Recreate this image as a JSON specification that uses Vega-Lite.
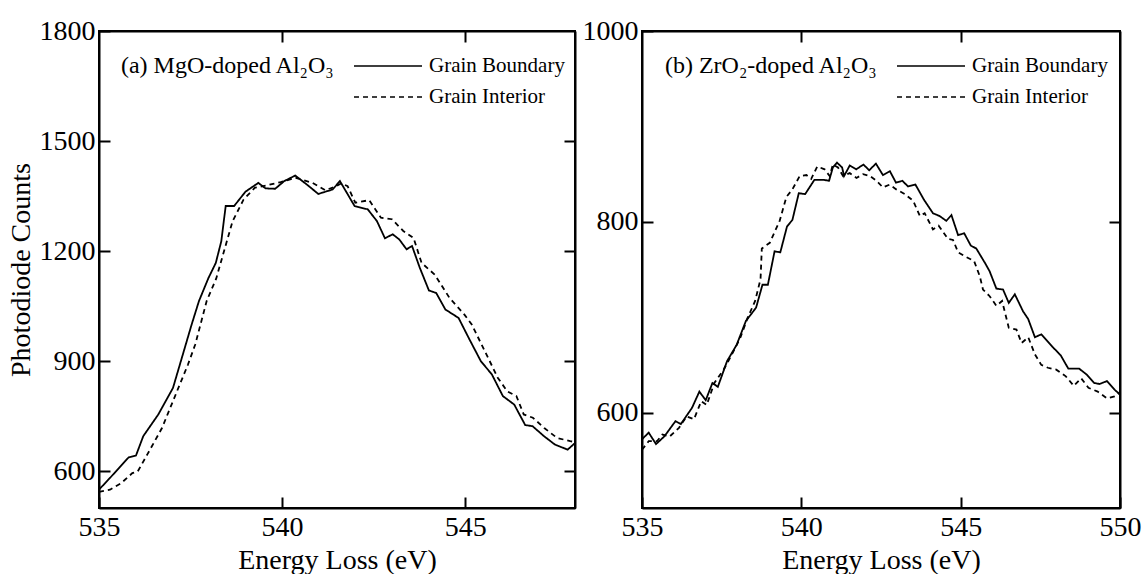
{
  "$schema": "https://vega.github.io/schema/vega-lite/v6.json",
  "padding": {"left": 6, "top": 16, "right": 5, "bottom": 5},
  "bounds": "flush",
  "spacing": 67,
  "config": {
    "font": "Liberation Serif",
    "view": {"stroke": "black", "strokeWidth": 2},
    "axis": {
      "grid": false, "domainColor": "black", "domainWidth": 2, "tickColor": "black", "tickWidth": 2,
      "labelColor": "black", "titleColor": "black", "labelFontSize": 28, "titleFontSize": 28,
      "titleFontWeight": "normal", "labelFont": "Liberation Serif", "titleFont": "Liberation Serif",
      "tickSize": -11, "labelFlush": false, "labelOverlap": false, "format": "d"
    },
    "legend": {
      "title": null, "orient": "none", "legendX": 254, "legendY": 17, "symbolType": "M-1,0H3",
      "symbolSize": 1156, "symbolStrokeWidth": 1.6, "symbolStrokeColor": "black", "symbolFillColor": "transparent",
      "labelFontSize": 21, "labelFont": "Liberation Serif", "labelColor": "black", "labelOffset": 40, "rowPadding": 3
    }
  },
  "datasets": {
    "mgo": [
      {"s": "Grain Boundary", "e": 535.0, "c": 550}, {"s": "Grain Boundary", "e": 535.3, "c": 582},
      {"s": "Grain Boundary", "e": 535.81, "c": 638}, {"s": "Grain Boundary", "e": 536.01, "c": 643},
      {"s": "Grain Boundary", "e": 536.21, "c": 696}, {"s": "Grain Boundary", "e": 536.62, "c": 755},
      {"s": "Grain Boundary", "e": 537.02, "c": 827}, {"s": "Grain Boundary", "e": 537.53, "c": 1000},
      {"s": "Grain Boundary", "e": 537.73, "c": 1064}, {"s": "Grain Boundary", "e": 537.99, "c": 1127},
      {"s": "Grain Boundary", "e": 538.19, "c": 1168}, {"s": "Grain Boundary", "e": 538.34, "c": 1227},
      {"s": "Grain Boundary", "e": 538.46, "c": 1323}, {"s": "Grain Boundary", "e": 538.69, "c": 1323},
      {"s": "Grain Boundary", "e": 539.0, "c": 1362}, {"s": "Grain Boundary", "e": 539.35, "c": 1386},
      {"s": "Grain Boundary", "e": 539.55, "c": 1371}, {"s": "Grain Boundary", "e": 539.81, "c": 1370},
      {"s": "Grain Boundary", "e": 540.06, "c": 1391}, {"s": "Grain Boundary", "e": 540.36, "c": 1406},
      {"s": "Grain Boundary", "e": 540.67, "c": 1382}, {"s": "Grain Boundary", "e": 540.99, "c": 1356},
      {"s": "Grain Boundary", "e": 541.38, "c": 1368}, {"s": "Grain Boundary", "e": 541.58, "c": 1391},
      {"s": "Grain Boundary", "e": 541.98, "c": 1323}, {"s": "Grain Boundary", "e": 542.34, "c": 1314},
      {"s": "Grain Boundary", "e": 542.59, "c": 1282}, {"s": "Grain Boundary", "e": 542.81, "c": 1235},
      {"s": "Grain Boundary", "e": 543.02, "c": 1246}, {"s": "Grain Boundary", "e": 543.2, "c": 1232},
      {"s": "Grain Boundary", "e": 543.4, "c": 1205}, {"s": "Grain Boundary", "e": 543.55, "c": 1214},
      {"s": "Grain Boundary", "e": 543.76, "c": 1155}, {"s": "Grain Boundary", "e": 544.01, "c": 1093},
      {"s": "Grain Boundary", "e": 544.21, "c": 1086}, {"s": "Grain Boundary", "e": 544.46, "c": 1041},
      {"s": "Grain Boundary", "e": 544.82, "c": 1018}, {"s": "Grain Boundary", "e": 545.12, "c": 959},
      {"s": "Grain Boundary", "e": 545.43, "c": 900}, {"s": "Grain Boundary", "e": 545.73, "c": 864},
      {"s": "Grain Boundary", "e": 546.03, "c": 805}, {"s": "Grain Boundary", "e": 546.34, "c": 782},
      {"s": "Grain Boundary", "e": 546.64, "c": 726}, {"s": "Grain Boundary", "e": 546.84, "c": 723},
      {"s": "Grain Boundary", "e": 547.15, "c": 696}, {"s": "Grain Boundary", "e": 547.45, "c": 673},
      {"s": "Grain Boundary", "e": 547.8, "c": 659}, {"s": "Grain Boundary", "e": 548.0, "c": 677},
      {"s": "Grain Interior", "e": 535.0, "c": 544}, {"s": "Grain Interior", "e": 535.3, "c": 550},
      {"s": "Grain Interior", "e": 535.61, "c": 568}, {"s": "Grain Interior", "e": 535.91, "c": 595},
      {"s": "Grain Interior", "e": 536.06, "c": 600}, {"s": "Grain Interior", "e": 536.32, "c": 646},
      {"s": "Grain Interior", "e": 536.72, "c": 718}, {"s": "Grain Interior", "e": 537.13, "c": 818},
      {"s": "Grain Interior", "e": 537.43, "c": 891}, {"s": "Grain Interior", "e": 537.63, "c": 946},
      {"s": "Grain Interior", "e": 537.94, "c": 1064}, {"s": "Grain Interior", "e": 538.2, "c": 1125},
      {"s": "Grain Interior", "e": 538.44, "c": 1209}, {"s": "Grain Interior", "e": 538.65, "c": 1282},
      {"s": "Grain Interior", "e": 538.95, "c": 1341}, {"s": "Grain Interior", "e": 539.26, "c": 1373},
      {"s": "Grain Interior", "e": 539.56, "c": 1379}, {"s": "Grain Interior", "e": 539.96, "c": 1388},
      {"s": "Grain Interior", "e": 540.37, "c": 1400}, {"s": "Grain Interior", "e": 540.83, "c": 1386},
      {"s": "Grain Interior", "e": 541.18, "c": 1366}, {"s": "Grain Interior", "e": 541.48, "c": 1377},
      {"s": "Grain Interior", "e": 541.62, "c": 1385}, {"s": "Grain Interior", "e": 541.79, "c": 1377},
      {"s": "Grain Interior", "e": 542.0, "c": 1332}, {"s": "Grain Interior", "e": 542.38, "c": 1339},
      {"s": "Grain Interior", "e": 542.7, "c": 1291}, {"s": "Grain Interior", "e": 543.0, "c": 1287},
      {"s": "Grain Interior", "e": 543.31, "c": 1255}, {"s": "Grain Interior", "e": 543.59, "c": 1236},
      {"s": "Grain Interior", "e": 543.81, "c": 1168}, {"s": "Grain Interior", "e": 544.17, "c": 1136},
      {"s": "Grain Interior", "e": 544.57, "c": 1073}, {"s": "Grain Interior", "e": 544.98, "c": 1027},
      {"s": "Grain Interior", "e": 545.18, "c": 1000}, {"s": "Grain Interior", "e": 545.54, "c": 927},
      {"s": "Grain Interior", "e": 545.89, "c": 855}, {"s": "Grain Interior", "e": 546.15, "c": 818},
      {"s": "Grain Interior", "e": 546.4, "c": 805}, {"s": "Grain Interior", "e": 546.6, "c": 755},
      {"s": "Grain Interior", "e": 546.85, "c": 746}, {"s": "Grain Interior", "e": 547.16, "c": 718},
      {"s": "Grain Interior", "e": 547.51, "c": 691}, {"s": "Grain Interior", "e": 547.87, "c": 682},
      {"s": "Grain Interior", "e": 548.0, "c": 680}
    ],
    "zro": [
      {"s": "Grain Boundary", "e": 535.0, "c": 572}, {"s": "Grain Boundary", "e": 535.21, "c": 579},
      {"s": "Grain Boundary", "e": 535.44, "c": 567}, {"s": "Grain Boundary", "e": 535.7, "c": 575},
      {"s": "Grain Boundary", "e": 536.05, "c": 591}, {"s": "Grain Boundary", "e": 536.22, "c": 588},
      {"s": "Grain Boundary", "e": 536.57, "c": 605}, {"s": "Grain Boundary", "e": 536.8, "c": 622},
      {"s": "Grain Boundary", "e": 537.0, "c": 613}, {"s": "Grain Boundary", "e": 537.21, "c": 631},
      {"s": "Grain Boundary", "e": 537.38, "c": 627}, {"s": "Grain Boundary", "e": 537.67, "c": 654},
      {"s": "Grain Boundary", "e": 537.97, "c": 671}, {"s": "Grain Boundary", "e": 538.26, "c": 696},
      {"s": "Grain Boundary", "e": 538.58, "c": 710}, {"s": "Grain Boundary", "e": 538.78, "c": 734},
      {"s": "Grain Boundary", "e": 538.95, "c": 734}, {"s": "Grain Boundary", "e": 539.16, "c": 769},
      {"s": "Grain Boundary", "e": 539.34, "c": 768}, {"s": "Grain Boundary", "e": 539.55, "c": 795},
      {"s": "Grain Boundary", "e": 539.72, "c": 802}, {"s": "Grain Boundary", "e": 539.92, "c": 830},
      {"s": "Grain Boundary", "e": 540.12, "c": 829}, {"s": "Grain Boundary", "e": 540.41, "c": 844},
      {"s": "Grain Boundary", "e": 540.7, "c": 844}, {"s": "Grain Boundary", "e": 540.87, "c": 843},
      {"s": "Grain Boundary", "e": 540.99, "c": 857}, {"s": "Grain Boundary", "e": 541.12, "c": 862},
      {"s": "Grain Boundary", "e": 541.28, "c": 857}, {"s": "Grain Boundary", "e": 541.34, "c": 848},
      {"s": "Grain Boundary", "e": 541.52, "c": 859}, {"s": "Grain Boundary", "e": 541.72, "c": 855},
      {"s": "Grain Boundary", "e": 541.95, "c": 860}, {"s": "Grain Boundary", "e": 542.13, "c": 854},
      {"s": "Grain Boundary", "e": 542.34, "c": 861}, {"s": "Grain Boundary", "e": 542.56, "c": 849},
      {"s": "Grain Boundary", "e": 542.78, "c": 853}, {"s": "Grain Boundary", "e": 542.97, "c": 841},
      {"s": "Grain Boundary", "e": 543.17, "c": 843}, {"s": "Grain Boundary", "e": 543.35, "c": 837},
      {"s": "Grain Boundary", "e": 543.58, "c": 839}, {"s": "Grain Boundary", "e": 543.85, "c": 823},
      {"s": "Grain Boundary", "e": 544.13, "c": 809}, {"s": "Grain Boundary", "e": 544.34, "c": 806},
      {"s": "Grain Boundary", "e": 544.55, "c": 801}, {"s": "Grain Boundary", "e": 544.71, "c": 807},
      {"s": "Grain Boundary", "e": 544.92, "c": 786}, {"s": "Grain Boundary", "e": 545.11, "c": 788},
      {"s": "Grain Boundary", "e": 545.32, "c": 775}, {"s": "Grain Boundary", "e": 545.49, "c": 772},
      {"s": "Grain Boundary", "e": 545.76, "c": 757}, {"s": "Grain Boundary", "e": 545.91, "c": 748},
      {"s": "Grain Boundary", "e": 546.12, "c": 730}, {"s": "Grain Boundary", "e": 546.33, "c": 729},
      {"s": "Grain Boundary", "e": 546.51, "c": 715}, {"s": "Grain Boundary", "e": 546.7, "c": 724},
      {"s": "Grain Boundary", "e": 546.96, "c": 706}, {"s": "Grain Boundary", "e": 547.12, "c": 698},
      {"s": "Grain Boundary", "e": 547.33, "c": 679}, {"s": "Grain Boundary", "e": 547.53, "c": 682},
      {"s": "Grain Boundary", "e": 547.88, "c": 669}, {"s": "Grain Boundary", "e": 548.14, "c": 660},
      {"s": "Grain Boundary", "e": 548.38, "c": 646}, {"s": "Grain Boundary", "e": 548.72, "c": 646},
      {"s": "Grain Boundary", "e": 548.95, "c": 640}, {"s": "Grain Boundary", "e": 549.19, "c": 631},
      {"s": "Grain Boundary", "e": 549.36, "c": 630}, {"s": "Grain Boundary", "e": 549.59, "c": 633},
      {"s": "Grain Boundary", "e": 549.83, "c": 624}, {"s": "Grain Boundary", "e": 550.0, "c": 619},
      {"s": "Grain Interior", "e": 535.0, "c": 561}, {"s": "Grain Interior", "e": 535.21, "c": 570},
      {"s": "Grain Interior", "e": 535.47, "c": 570}, {"s": "Grain Interior", "e": 535.64, "c": 577},
      {"s": "Grain Interior", "e": 535.87, "c": 575}, {"s": "Grain Interior", "e": 536.16, "c": 584},
      {"s": "Grain Interior", "e": 536.4, "c": 596}, {"s": "Grain Interior", "e": 536.63, "c": 593},
      {"s": "Grain Interior", "e": 536.86, "c": 612}, {"s": "Grain Interior", "e": 537.03, "c": 608},
      {"s": "Grain Interior", "e": 537.27, "c": 631}, {"s": "Grain Interior", "e": 537.56, "c": 645},
      {"s": "Grain Interior", "e": 537.79, "c": 659}, {"s": "Grain Interior", "e": 538.08, "c": 678},
      {"s": "Grain Interior", "e": 538.31, "c": 699}, {"s": "Grain Interior", "e": 538.55, "c": 717},
      {"s": "Grain Interior", "e": 538.72, "c": 740}, {"s": "Grain Interior", "e": 538.76, "c": 772},
      {"s": "Grain Interior", "e": 539.01, "c": 778}, {"s": "Grain Interior", "e": 539.32, "c": 801},
      {"s": "Grain Interior", "e": 539.53, "c": 826}, {"s": "Grain Interior", "e": 539.72, "c": 834},
      {"s": "Grain Interior", "e": 539.95, "c": 848}, {"s": "Grain Interior", "e": 540.16, "c": 849},
      {"s": "Grain Interior", "e": 540.31, "c": 845}, {"s": "Grain Interior", "e": 540.5, "c": 858},
      {"s": "Grain Interior", "e": 540.73, "c": 855}, {"s": "Grain Interior", "e": 540.89, "c": 848},
      {"s": "Grain Interior", "e": 540.99, "c": 860}, {"s": "Grain Interior", "e": 541.15, "c": 857},
      {"s": "Grain Interior", "e": 541.31, "c": 848}, {"s": "Grain Interior", "e": 541.52, "c": 851},
      {"s": "Grain Interior", "e": 541.73, "c": 846}, {"s": "Grain Interior", "e": 541.94, "c": 850},
      {"s": "Grain Interior", "e": 542.15, "c": 848}, {"s": "Grain Interior", "e": 542.36, "c": 843},
      {"s": "Grain Interior", "e": 542.56, "c": 836}, {"s": "Grain Interior", "e": 542.77, "c": 839},
      {"s": "Grain Interior", "e": 542.98, "c": 834}, {"s": "Grain Interior", "e": 543.25, "c": 829},
      {"s": "Grain Interior", "e": 543.51, "c": 822}, {"s": "Grain Interior", "e": 543.72, "c": 806},
      {"s": "Grain Interior", "e": 543.87, "c": 809}, {"s": "Grain Interior", "e": 544.13, "c": 792},
      {"s": "Grain Interior", "e": 544.31, "c": 796}, {"s": "Grain Interior", "e": 544.6, "c": 782},
      {"s": "Grain Interior", "e": 544.76, "c": 781}, {"s": "Grain Interior", "e": 544.92, "c": 768},
      {"s": "Grain Interior", "e": 545.18, "c": 763}, {"s": "Grain Interior", "e": 545.42, "c": 759},
      {"s": "Grain Interior", "e": 545.6, "c": 743}, {"s": "Grain Interior", "e": 545.7, "c": 729},
      {"s": "Grain Interior", "e": 545.91, "c": 722}, {"s": "Grain Interior", "e": 546.12, "c": 712},
      {"s": "Grain Interior", "e": 546.3, "c": 717}, {"s": "Grain Interior", "e": 546.51, "c": 689},
      {"s": "Grain Interior", "e": 546.75, "c": 687}, {"s": "Grain Interior", "e": 546.91, "c": 673},
      {"s": "Grain Interior", "e": 547.12, "c": 679}, {"s": "Grain Interior", "e": 547.33, "c": 661},
      {"s": "Grain Interior", "e": 547.53, "c": 650}, {"s": "Grain Interior", "e": 547.74, "c": 647},
      {"s": "Grain Interior", "e": 548.0, "c": 645}, {"s": "Grain Interior", "e": 548.3, "c": 638},
      {"s": "Grain Interior", "e": 548.55, "c": 628}, {"s": "Grain Interior", "e": 548.78, "c": 636},
      {"s": "Grain Interior", "e": 549.01, "c": 626}, {"s": "Grain Interior", "e": 549.3, "c": 622},
      {"s": "Grain Interior", "e": 549.59, "c": 615}, {"s": "Grain Interior", "e": 549.83, "c": 617},
      {"s": "Grain Interior", "e": 550.0, "c": 621}
    ]
  },
  "resolve": {"legend": {"strokeDash": "independent"}},
  "hconcat": [
    {
      "width": 476, "height": 477,
      "resolve": {"axis": {"x": "independent", "y": "independent"}},
      "layer": [
        {
          "data": {"name": "mgo"},
          "mark": {"type": "line", "color": "black", "strokeWidth": 1.8},
          "encoding": {
            "x": {"field": "e", "type": "quantitative", "scale": {"domain": [535, 548], "nice": false, "zero": false},
                  "axis": {"orient": "bottom", "values": [535, 540, 545], "title": "Energy Loss (eV)", "labelPadding": 16, "titlePadding": 5}},
            "y": {"field": "c", "type": "quantitative", "scale": {"domain": [500, 1800], "nice": false, "zero": false},
                  "axis": {"orient": "left", "values": [600, 900, 1200, 1500, 1800], "title": "Photodiode Counts", "labelPadding": 15, "titlePadding": 4}},
            "strokeDash": {"field": "s", "type": "nominal",
                           "scale": {"domain": ["Grain Boundary", "Grain Interior"], "range": [[1, 0], [5, 4]]}}
          }
        },
        {
          "data": {"name": "mgo"},
          "mark": {"type": "point", "opacity": 0},
          "encoding": {
            "x": {"field": "e", "type": "quantitative", "axis": {"orient": "top", "values": [540, 545], "labels": false, "title": null}},
            "y": {"field": "c", "type": "quantitative", "axis": {"orient": "right", "values": [600, 900, 1200, 1500], "labels": false, "title": null}}
          }
        },
        {
          "data": {"values": [{"e": 535.6, "c": 1704, "t": "(a) MgO-doped Al₂O₃"}]},
          "mark": {"type": "text", "align": "left", "baseline": "middle", "fontSize": 24, "color": "black"},
          "encoding": {
            "x": {"field": "e", "type": "quantitative", "axis": null},
            "y": {"field": "c", "type": "quantitative", "axis": null},
            "text": {"field": "t"}
          }
        }
      ]
    },
    {
      "width": 478, "height": 477,
      "resolve": {"axis": {"x": "independent", "y": "independent"}},
      "layer": [
        {
          "data": {"name": "zro"},
          "mark": {"type": "line", "color": "black", "strokeWidth": 1.8},
          "encoding": {
            "x": {"field": "e", "type": "quantitative", "scale": {"domain": [535, 550], "nice": false, "zero": false},
                  "axis": {"orient": "bottom", "values": [535, 540, 545, 550], "title": "Energy Loss (eV)", "labelPadding": 16, "titlePadding": 5}},
            "y": {"field": "c", "type": "quantitative", "scale": {"domain": [500, 1000], "nice": false, "zero": false},
                  "axis": {"orient": "left", "values": [600, 800, 1000], "title": null, "labelPadding": 15}},
            "strokeDash": {"field": "s", "type": "nominal",
                           "scale": {"domain": ["Grain Boundary", "Grain Interior"], "range": [[1, 0], [5, 4]]}}
          }
        },
        {
          "data": {"name": "zro"},
          "mark": {"type": "point", "opacity": 0},
          "encoding": {
            "x": {"field": "e", "type": "quantitative", "axis": {"orient": "top", "values": [540, 545], "labels": false, "title": null}},
            "y": {"field": "c", "type": "quantitative", "axis": {"orient": "right", "values": [600, 800], "labels": false, "title": null}}
          }
        },
        {
          "data": {"values": [{"e": 535.72, "c": 963, "t": "(b) ZrO₂-doped Al₂O₃"}]},
          "mark": {"type": "text", "align": "left", "baseline": "middle", "fontSize": 24, "color": "black"},
          "encoding": {
            "x": {"field": "e", "type": "quantitative", "axis": null},
            "y": {"field": "c", "type": "quantitative", "axis": null},
            "text": {"field": "t"}
          }
        }
      ]
    }
  ]
}
